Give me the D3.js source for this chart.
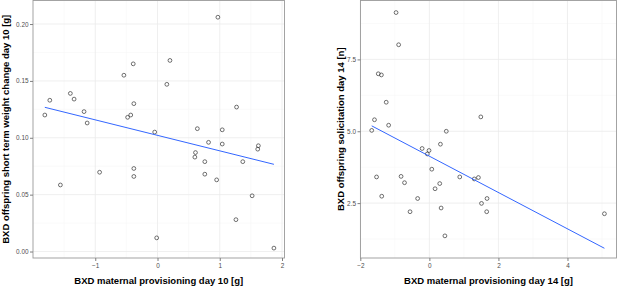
<!DOCTYPE html>
<html lang="en">
<head>
<meta charset="UTF-8">
<title>BXD maternal provisioning vs offspring</title>
<script src="https://d3js.org/d3.v7.min.js"></script>
<style>
  body { margin: 0; background: #fff; }
  svg { display: block; font-family: "Liberation Sans", Arial, sans-serif; }
  .tick text { fill: #4d4d4d; font-size: 6.4px; }
  .tick line { stroke: #7f7f7f; }
  .domain { display: none; }
  .title { font-weight: bold; font-size: 9.5px; fill: #000; }
</style>
</head>
<body>
<svg id="chart" width="617" height="287"></svg>
<script>
// left panel: day 10
var provDay10 = [-1.81, -1.73, -1.40, -1.34, -1.18, -1.13, -1.56, -0.93, -0.54, -0.39, -0.38, -0.48,
  -0.43, -0.38, -0.38, -0.045, -0.013, 0.15, 0.20, 0.97, 0.64, 0.61, 0.60, 0.82, 0.76, 0.76,
  0.95, 1.04, 1.04, 1.27, 1.37, 1.52, 1.26, 1.62, 1.61, 1.87];
var weightDay10 = [0.120, 0.133, 0.139, 0.134, 0.123, 0.113, 0.0585, 0.0697, 0.155, 0.165, 0.130, 0.118,
  0.120, 0.073, 0.066, 0.105, 0.012, 0.147, 0.168, 0.206, 0.108, 0.087, 0.083, 0.096, 0.079, 0.068,
  0.063, 0.107, 0.0945, 0.127, 0.079, 0.049, 0.028, 0.093, 0.090, 0.003];
var xTicks10 = [-1, 0, 1, 2];
var yTicks10 = [0, 0.05, 0.10, 0.15, 0.20];

// right panel: day 14
var provDay14 = [-0.965, -0.89, -1.48, -1.39, -1.25, -1.59, -1.18, -1.67, -1.53, -1.38, -0.82, -0.72,
  -0.34, -0.56, -0.21, -0.01, -0.06, 0.07, 0.32, 0.49, 0.30, 0.165, 0.34, 0.45, 0.88, 1.30,
  1.42, 1.49, 1.51, 1.67, 1.66, 5.07];
var solicitDay14 = [9.13, 8.01, 7.00, 6.96, 6.01, 5.40, 5.21, 5.03, 3.41, 2.74, 3.43, 3.21,
  2.66, 2.20, 4.40, 4.33, 4.21, 3.68, 4.55, 5.00, 3.18, 3.00, 2.33, 1.36, 3.41, 3.34,
  3.39, 5.50, 2.49, 2.66, 2.20, 2.13];
var xTicks14 = [-2, 0, 2, 4];
var yTicks14 = [2.5, 5.0, 7.5];

var svg = d3.select("#chart");

function midpoints(t) {
  var m = [];
  var step = t[1] - t[0];
  m.push(t[0] - step / 2);
  for (var i = 0; i < t.length; i++) m.push(t[i] + step / 2);
  return m;
}

function panel(opts) {
  var x = d3.scaleLinear().domain(opts.xDomain).range([opts.left, opts.right]);
  var y = d3.scaleLinear().domain(opts.yDomain).range([opts.bottom, opts.top]);
  var g = svg.append("g");

  // minor grid
  var xm = midpoints(opts.xTicks).filter(v => v > opts.xDomain[0] && v < opts.xDomain[1]);
  var ym = midpoints(opts.yTicks).filter(v => v > opts.yDomain[0] && v < opts.yDomain[1]);
  g.selectAll(".xminor").data(xm).enter().append("line")
    .attr("x1", d => x(d)).attr("x2", d => x(d)).attr("y1", opts.top).attr("y2", opts.bottom)
    .attr("stroke", "#f6f6f6").attr("stroke-width", 0.6);
  g.selectAll(".yminor").data(ym).enter().append("line")
    .attr("y1", d => y(d)).attr("y2", d => y(d)).attr("x1", opts.left).attr("x2", opts.right)
    .attr("stroke", "#f6f6f6").attr("stroke-width", 0.6);
  // major grid
  g.selectAll(".xmajor").data(opts.xTicks).enter().append("line")
    .attr("x1", d => x(d)).attr("x2", d => x(d)).attr("y1", opts.top).attr("y2", opts.bottom)
    .attr("stroke", "#ebebeb").attr("stroke-width", 0.8);
  g.selectAll(".ymajor").data(opts.yTicks).enter().append("line")
    .attr("y1", d => y(d)).attr("y2", d => y(d)).attr("x1", opts.left).attr("x2", opts.right)
    .attr("stroke", "#ebebeb").attr("stroke-width", 0.8);

  // points
  var pts = opts.xs.map((v, i) => [v, opts.ys[i]]);
  g.selectAll(".pt").data(pts).enter().append("circle")
    .attr("cx", d => x(d[0])).attr("cy", d => y(d[1])).attr("r", 1.9)
    .attr("fill", "none").attr("stroke", "#333").attr("stroke-width", 0.7);

  // linear fit (least squares)
  var mx = d3.mean(opts.xs), my = d3.mean(opts.ys);
  var sxy = d3.sum(pts, d => (d[0] - mx) * (d[1] - my));
  var sxx = d3.sum(opts.xs, v => (v - mx) * (v - mx));
  var b = sxy / sxx, a = my - b * mx;
  var ext = d3.extent(opts.xs);
  g.append("path")
    .attr("d", d3.line()(ext.map(v => [x(v), y(a + b * v)])))
    .attr("stroke", "#3366ff").attr("stroke-width", 1).attr("fill", "none");

  // border
  g.append("rect")
    .attr("x", opts.left).attr("y", opts.top)
    .attr("width", opts.right - opts.left).attr("height", opts.bottom - opts.top)
    .attr("fill", "none").attr("stroke", "#9a9a9a").attr("stroke-width", 0.9);

  // axes
  svg.append("g").attr("transform", "translate(0," + opts.bottom + ")")
    .call(d3.axisBottom(x).tickValues(opts.xTicks).tickSize(3).tickPadding(2.5).tickFormat(d3.format("d")));
  svg.append("g").attr("transform", "translate(" + opts.left + ",0)")
    .call(d3.axisLeft(y).tickValues(opts.yTicks).tickSize(3).tickPadding(1.5).tickFormat(d3.format(opts.yFormat)));

  // titles
  svg.append("text").attr("class", "title")
    .attr("x", (opts.left + opts.right) / 2).attr("y", 283.5)
    .attr("text-anchor", "middle").text(opts.xTitle);
  svg.append("text").attr("class", "title")
    .attr("transform", "translate(" + opts.yTitleX + "," + (opts.top + opts.bottom) / 2 + ") rotate(-90)")
    .attr("text-anchor", "middle").text(opts.yTitle);
}

panel({
  xs: provDay10, ys: weightDay10, xTicks: xTicks10, yTicks: yTicks10,
  xDomain: [-2.0, 2.04], yDomain: [-0.0057, 0.2207],
  left: 33, right: 284.5, top: 0.5, bottom: 258,
  yFormat: ".2f", yTitleX: 8.5,
  xTitle: "BXD maternal provisioning day 10 [g]",
  yTitle: "BXD offspring short term weight change day 10 [g]"
});

panel({
  xs: provDay14, ys: solicitDay14, xTicks: xTicks14, yTicks: yTicks14,
  xDomain: [-1.995, 5.42], yDomain: [0.59, 9.55],
  left: 360.5, right: 616.5, top: 0.5, bottom: 258,
  yFormat: ".1f", yTitleX: 344,
  xTitle: "BXD maternal provisioning day 14 [g]",
  yTitle: "BXD offspring solicitation day 14 [n]"
});
</script>
</body>
</html>
